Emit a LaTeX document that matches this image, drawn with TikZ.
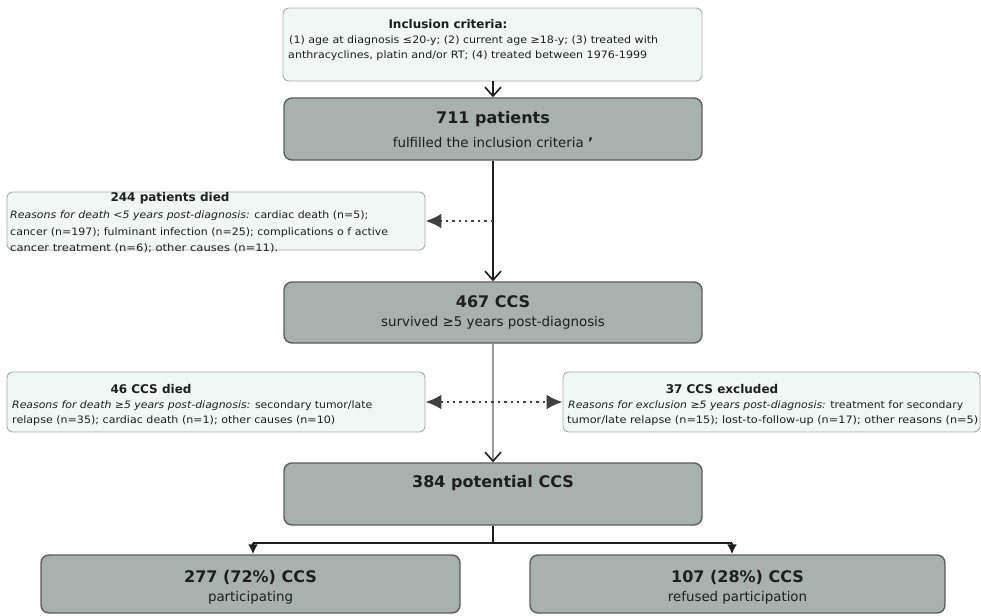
\documentclass[tikz,border=0pt]{standalone}
\usepackage{fontspec}
\usepackage{graphicx}
\setmainfont{DejaVu Sans}
\usetikzlibrary{arrows.meta}
\definecolor{boxgray}{HTML}{A9B1AE}
\definecolor{boxlight}{HTML}{F1F7F5}
\definecolor{edgegray}{HTML}{5A5E5C}
\definecolor{lightedge}{HTML}{A8ACAA}
\definecolor{ink}{HTML}{1E1E1E}
\definecolor{greyline}{HTML}{9A9A9A}
\newcommand\fitto[2]{\resizebox{#1}{\height}{#2}}
\begin{document}
\begin{tikzpicture}[x=1pt,y=-1pt,
  graybox/.style={draw=edgegray, line width=1.4pt, fill=boxgray, rounded corners=8pt, inner sep=0pt},
  lightbox/.style={draw=lightedge, line width=0.9pt, fill=boxlight, rounded corners=6pt, inner sep=0pt},
  titletxt/.style={font=\bfseries\fontsize{16}{18}\selectfont, text=ink, inner sep=0pt},
  subtxt/.style={font=\fontsize{13.4}{15}\selectfont, text=ink, inner sep=0pt},
  headtxt/.style={font=\bfseries\fontsize{12}{14}\selectfont, text=ink, inner sep=0pt},
  smalltxt/.style={font=\fontsize{10.2}{12}\selectfont, text=ink, inner sep=0pt, anchor=west},
  mainarrow/.style={draw=ink, line width=1.8pt, -{Straight Barb[length=9pt,width=16pt,line width=1.6pt]}},
  greyarrow/.style={draw=greyline, line width=2pt, -{Straight Barb[length=9pt,width=16pt,line width=1.6pt,color=ink]}},
  dotarrow/.style={draw=ink!85, line width=2.4pt, dash pattern=on 2.4pt off 4pt, -{Latex[length=16pt,width=15pt]}},
  dotboth/.style={draw=ink!85, line width=2.4pt, dash pattern=on 2.4pt off 4pt, {Latex[length=16pt,width=15pt]}-{Latex[length=16pt,width=15pt]}},
  brancharrow/.style={draw=ink, line width=2.2pt, -{Latex[length=10pt,width=10pt]}},
  branchline/.style={draw=ink, line width=2.6pt}
]
\useasboundingbox (0,0) rectangle (981,615);
\fill[white] (0,0) rectangle (981,615);

% boxes
\node[lightbox, minimum width=419pt, minimum height=73pt] (inc) at (492.5,44.5) {};
\node[graybox, minimum width=418pt, minimum height=62pt] (p711) at (493,129) {};
\node[lightbox, minimum width=418pt, minimum height=58pt] (d244) at (216,221) {};
\node[graybox, minimum width=418pt, minimum height=61pt] (c467) at (493,312.5) {};
\node[lightbox, minimum width=418pt, minimum height=60pt] (d46) at (216,402) {};
\node[lightbox, minimum width=417pt, minimum height=60pt] (e37) at (771.5,402) {};
\node[graybox, minimum width=418pt, minimum height=62pt] (p384) at (493,494) {};
\node[graybox, minimum width=419pt, minimum height=58pt] (part) at (250.5,584) {};
\node[graybox, minimum width=415pt, minimum height=58pt] (refu) at (737.5,584) {};

% texts: inclusion
\node[headtxt] (incH) at (448,24) {Inclusion criteria:};
\node[smalltxt] (incL1) at (289,41) {\fitto{369pt}{(1) age at diagnosis ≤20-y; (2) current age ≥18-y; (3) treated with}};
\node[smalltxt] (incL2) at (288,56) {\fitto{359pt}{anthracyclines, platin and/or RT; (4) treated between 1976-1999}};

% 711
\node[titletxt] (p711T) at (493,119) {711 patients};
\node[subtxt] (p711S) at (493,143) {fulfilled the inclusion criteria \textbf{’}};

% 244
\node[headtxt] (d244H) at (170,198) {244 patients died};
\node[smalltxt] (d244L1) at (10,216) {\fitto{358pt}{\textit{Reasons for death <5 years post-diagnosis:} cardiac death (n=5);}};
\node[smalltxt] (d244L2) at (10,233) {\fitto{378pt}{cancer (n=197); fulminant infection (n=25); complications o f active}};
\node[smalltxt] (d244L3) at (10,248) {\fitto{268pt}{cancer treatment (n=6); other causes (n=11).}};

% 467
\node[titletxt] (c467T) at (493,302) {467 CCS};
\node[subtxt] (c467S) at (493,323) {survived ≥5 years post-diagnosis};

% 46
\node[headtxt] (d46H) at (151,389) {46 CCS died};
\node[smalltxt] (d46L1) at (12,406) {\fitto{360pt}{\textit{Reasons for death ≥5 years post-diagnosis:} secondary tumor/late}};
\node[smalltxt] (d46L2) at (12,421) {\fitto{323pt}{relapse (n=35); cardiac death (n=1); other causes (n=10)}};

% 37
\node[headtxt] (e37H) at (722,389) {37 CCS excluded};
\node[smalltxt] (e37L1) at (568,406) {\fitto{395pt}{\textit{Reasons for exclusion ≥5 years post-diagnosis:} treatment for secondary}};
\node[smalltxt] (e37L2) at (567,421) {\fitto{411pt}{tumor/late relapse (n=15); lost-to-follow-up (n=17); other reasons (n=5)}};

% 384
\node[titletxt] (p384T) at (493,483) {384 potential CCS};

% bottom
\node[titletxt] (partT) at (250.5,577) {277 (72\%) CCS};
\node[subtxt] (partS) at (250.5,598) {participating};
\node[titletxt] (refuT) at (737.5,577) {107 (28\%) CCS};
\node[subtxt] (refuS) at (737.5,598) {refused participation};

% connectors
\draw[mainarrow] (inc.south -| p711.north) -- (p711.north);
\draw[mainarrow] (p711.south) -- (c467.north);
\coordinate (j244) at (p711.south |- d244.east);
\draw[dotarrow] (j244) -- (d244.east);
\draw[greyarrow] (c467.south) -- (p384.north);
\draw[dotboth] (d46.east) -- (e37.west);

\coordinate (bl) at (253,543);
\coordinate (brr) at (732,543);
\draw[branchline] (p384.south) -- (p384.south |- bl);
\draw[branchline] (bl) -- (brr);
\draw[brancharrow] (bl) -- (bl |- part.north);
\draw[brancharrow] (brr) -- (brr |- refu.north);
\end{tikzpicture}
\end{document}
